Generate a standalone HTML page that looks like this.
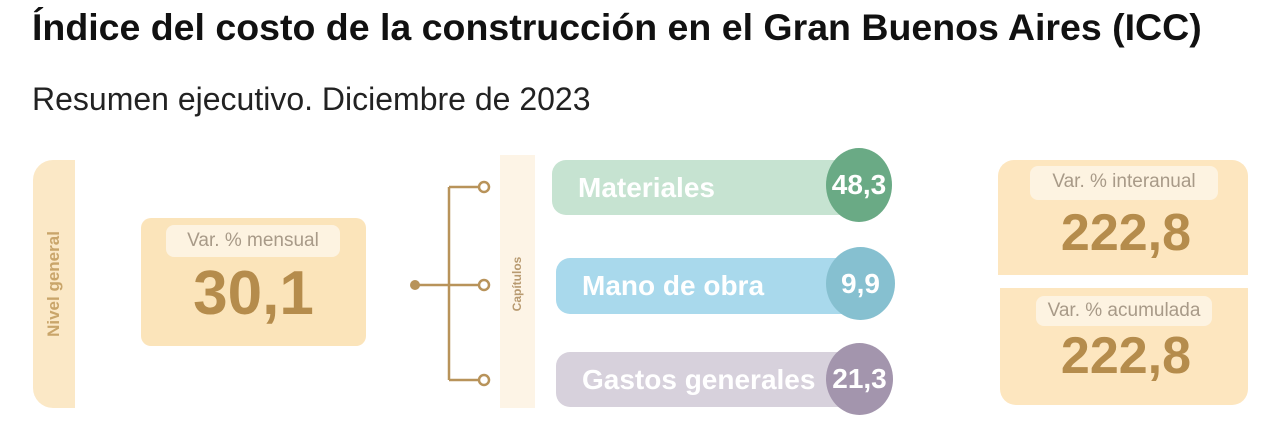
<!DOCTYPE html>
<html><head><meta charset="utf-8"><style>
body{margin:0;width:1280px;height:431px;background:#fff;font-family:"Liberation Sans",sans-serif;position:relative;overflow:hidden}
.a{position:absolute}
.pill{position:absolute;border-radius:14px;color:#fff;font-weight:bold;font-size:28px;display:flex;align-items:center;padding-left:26px;box-sizing:border-box}
.circ{position:absolute;border-radius:50%;color:#fff;font-weight:bold;font-size:28px;display:flex;align-items:center;justify-content:center}
.lab{position:absolute;background:#fdf3e1;border-radius:8px;color:#a89a88;font-size:19px;text-align:center}
.num{position:absolute;color:#b58c4c;font-weight:bold;text-align:center}
</style></head><body>
<div class="a" style="left:32px;top:6px;font-size:37.5px;font-weight:bold;color:#111;white-space:nowrap">Índice del costo de la construcción en el Gran Buenos Aires (ICC)</div>
<div class="a" style="left:32px;top:81px;font-size:32px;color:#222;white-space:nowrap">Resumen ejecutivo. Diciembre de 2023</div>

<div class="a" style="left:33px;top:160px;width:42px;height:248px;background:#fbe8c6;border-radius:20px 0 0 20px"></div>
<div class="a" style="left:54px;top:284px;transform:translate(-50%,-50%) rotate(-90deg);color:#c9a56a;font-size:17px;font-weight:bold;white-space:nowrap">Nivel general</div>

<div class="a" style="left:141px;top:218px;width:225px;height:128px;background:#fbe4ba;border-radius:10px"></div>
<div class="lab" style="left:166px;top:225px;width:174px;height:32px;line-height:32px">Var. % mensual</div>
<div class="num" style="left:141px;top:258px;width:225px;font-size:62px">30,1</div>

<svg class="a" style="left:0;top:0" width="1280" height="431">
<g stroke="#b8935a" stroke-width="2.5" fill="none">
<line x1="415" y1="285" x2="479" y2="285"/>
<line x1="449" y1="187" x2="449" y2="380"/>
<line x1="449" y1="187" x2="479" y2="187"/>
<line x1="449" y1="380" x2="479" y2="380"/>
<circle cx="484" cy="187" r="5" fill="#fff"/>
<circle cx="484" cy="285" r="5" fill="#fff"/>
<circle cx="484" cy="380" r="5" fill="#fff"/>
</g>
<circle cx="415" cy="285" r="5" fill="#b8935a"/>
</svg>

<div class="a" style="left:500px;top:155px;width:35px;height:253px;background:#fdf4e6"></div>
<div class="a" style="left:517px;top:284px;transform:translate(-50%,-50%) rotate(-90deg);color:#b89a70;font-size:12px;font-weight:bold;white-space:nowrap">Capítulos</div>

<div class="pill" style="left:552px;top:160px;width:308px;height:55px;background:#c6e3d1">Materiales</div>
<div class="circ" style="left:826px;top:148px;width:66px;height:74px;background:#6aaa85">48,3</div>
<div class="pill" style="left:556px;top:258px;width:310px;height:56px;background:#a9d9ec">Mano de obra</div>
<div class="circ" style="left:826px;top:247px;width:69px;height:73px;background:#86c0d0">9,9</div>
<div class="pill" style="left:556px;top:352px;width:310px;height:55px;background:#d7d1dc">Gastos generales</div>
<div class="circ" style="left:826px;top:343px;width:67px;height:72px;background:#a395ad">21,3</div>

<div class="a" style="left:998px;top:160px;width:250px;height:115px;background:#fde6bf;border-radius:16px 16px 0 0"></div>
<div class="lab" style="left:1030px;top:166px;width:188px;height:34px;line-height:32px">Var. % interanual</div>
<div class="num" style="left:998px;top:203px;width:256px;font-size:52px">222,8</div>
<div class="a" style="left:1000px;top:288px;width:248px;height:117px;background:#fde6bf;border-radius:0 0 16px 16px"></div>
<div class="lab" style="left:1036px;top:296px;width:176px;height:30px;line-height:30px">Var. % acumulada</div>
<div class="num" style="left:998px;top:326px;width:256px;font-size:52px">222,8</div>
</body></html>
